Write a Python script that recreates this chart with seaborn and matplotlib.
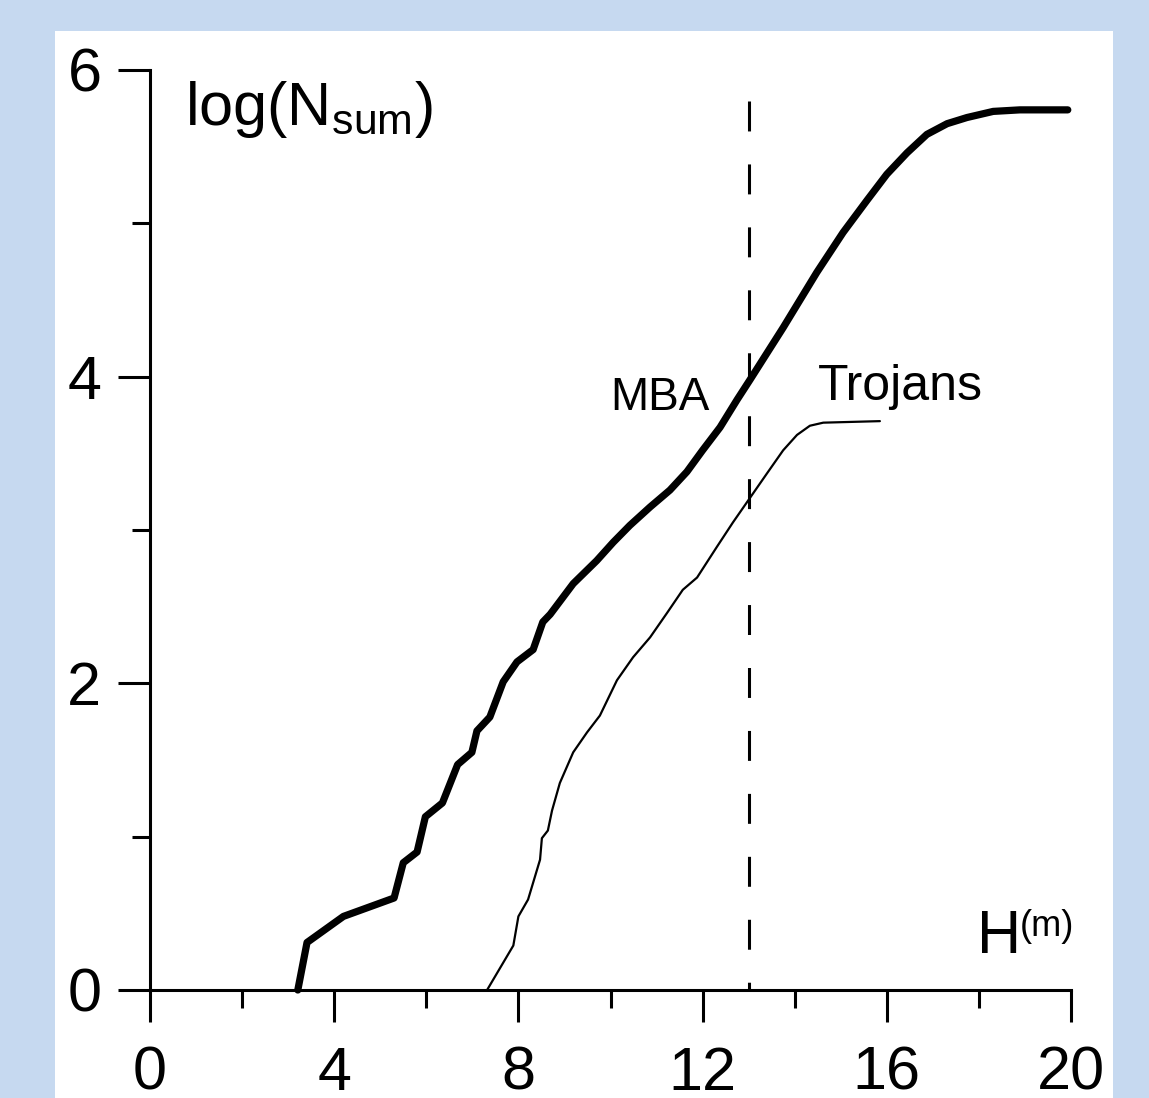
import matplotlib
matplotlib.use("Agg")
import matplotlib.pyplot as plt
from matplotlib.patches import Rectangle
from matplotlib.ticker import MultipleLocator
import seaborn as sns
import pandas as pd

# ---- data ----
mba_H = [3.21, 3.41, 4.2, 5.3, 5.5, 5.8, 5.98, 6.35, 6.68, 6.99, 7.1, 7.38, 7.67,
         7.97, 8.32, 8.53, 8.69, 9.19, 9.7, 10.06, 10.42, 10.86, 11.29, 11.66, 12.0,
         12.38, 12.75, 13.03, 13.75, 14.48, 15.05, 15.57, 16.0, 16.44, 16.87, 17.31,
         17.74, 18.31, 18.89, 19.93]
mba_logN = [0.0, 0.31, 0.48, 0.60, 0.83, 0.90, 1.13, 1.22, 1.47, 1.55, 1.69, 1.78, 2.01,
            2.14, 2.22, 2.40, 2.45, 2.65, 2.80, 2.92, 3.03, 3.15, 3.26, 3.38, 3.52,
            3.67, 3.85, 3.98, 4.32, 4.68, 4.94, 5.15, 5.32, 5.46, 5.58, 5.65,
            5.69, 5.73, 5.74, 5.74]

troj_H = [7.32, 7.89, 8.0, 8.21, 8.47, 8.51, 8.64, 8.73, 8.9, 9.19, 9.49, 9.77, 10.14,
          10.49, 10.86, 11.23, 11.57, 11.88, 12.31, 12.66, 13.03, 13.4, 13.75, 14.05,
          14.33, 14.62, 15.85]
troj_logN = [0.0, 0.29, 0.48, 0.59, 0.85, 0.99, 1.04, 1.17, 1.35, 1.55, 1.68, 1.79, 2.02,
             2.17, 2.30, 2.46, 2.61, 2.69, 2.89, 3.05, 3.21, 3.37, 3.52, 3.62,
             3.68, 3.70, 3.71]

limit_H = [13.0, 13.0]
limit_logN = [5.8, 0.0]

x_ticks = [0, 4, 8, 12, 16, 20]
y_ticks = [0, 2, 4, 6]

FONT = "Liberation Sans"
sns.set_theme(style="white")
plt.rcParams["font.family"] = [FONT, "DejaVu Sans"]
plt.rcParams["mathtext.fontset"] = "custom"
plt.rcParams["mathtext.rm"] = FONT
plt.rcParams["mathtext.it"] = FONT + ":italic"
plt.rcParams["mathtext.bf"] = FONT + ":bold"
plt.rcParams["text.color"] = "black"

W, H = 1149, 1098
fig = plt.figure(figsize=(W / 100, H / 100), dpi=100)
fig.patch.set_facecolor("#c6d9f0")
fig.patches.append(Rectangle((55 / W, 0), (1113 - 55) / W, 1 - 31 / H,
                             transform=fig.transFigure, facecolor="white",
                             edgecolor="none", zorder=-10))

ax = fig.add_axes([150 / W, 1 - 990 / H, (1071 - 150) / W, (990 - 70) / H])
ax.set_zorder(5)
ax.set_facecolor("none")

mba = pd.DataFrame({"H": mba_H, "logN": mba_logN})
troj = pd.DataFrame({"H": troj_H, "logN": troj_logN})
lim = pd.DataFrame({"H": limit_H, "logN": limit_logN})

sns.lineplot(data=mba, x="H", y="logN", sort=False, estimator=None, ax=ax,
             color="black", linewidth=5.2, solid_joinstyle="round",
             solid_capstyle="round", clip_on=False)
sns.lineplot(data=troj, x="H", y="logN", sort=False, estimator=None, ax=ax,
             color="black", linewidth=1.6, solid_joinstyle="round", clip_on=False)
sns.lineplot(data=lim, x="H", y="logN", sort=False, estimator=None, ax=ax,
             color="black", linewidth=2.2, linestyle=(0, (9.8, 10.8)), clip_on=False)

ax.set_xlim(0, 20)
ax.set_ylim(0, 6)
ax.set_xticks(x_ticks)
ax.set_yticks(y_ticks)
ax.xaxis.set_minor_locator(MultipleLocator(2))
ax.yaxis.set_minor_locator(MultipleLocator(1))
ax.set_xlabel("")
ax.set_ylabel("")

for s in ["top", "right"]:
    ax.spines[s].set_visible(False)
for s in ["left", "bottom"]:
    ax.spines[s].set_linewidth(2.2)
    ax.spines[s].set_color("black")

ax.tick_params(axis="both", which="major", direction="out", length=23, width=2.2,
               color="black", labelsize=44, labelcolor="black")
ax.tick_params(axis="both", which="minor", direction="out", length=13, width=2.2,
               color="black")
ax.tick_params(axis="x", which="major", pad=17)
ax.tick_params(axis="y", which="major", pad=12)
ax.tick_params(axis="x", which="both", bottom=True)
ax.tick_params(axis="y", which="both", left=True)

ax.text(0.76, 5.64, r"log(N$_{\mathrm{sum}}$)", fontsize=44, va="baseline", ha="left",
        color="black")
ax.text(9.99, 3.78, "MBA", fontsize=33, va="baseline", ha="left", color="black")
ax.text(14.5, 3.85, "Trojans", fontsize=36, va="baseline", ha="left", color="black")
ax.text(17.96, 0.24, "H", fontsize=44, va="baseline", ha="left", color="black")
ax.text(18.89, 0.35, "(m)", fontsize=26, va="baseline", ha="left", color="black")

fig.savefig("out.png", dpi=100)
